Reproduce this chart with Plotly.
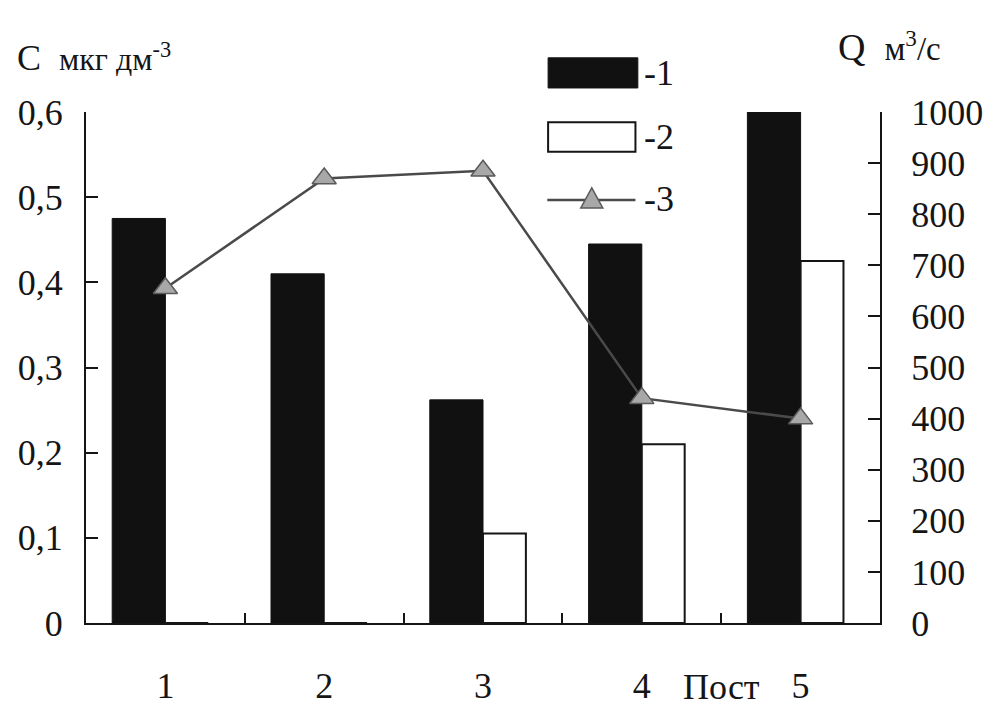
import plotly.graph_objects as go

# ---- data ----
posts = ["1", "2", "3", "4", "5"]
c_series1 = [0.475, 0.41, 0.262, 0.445, 0.6]       # black bars, left axis
c_series2 = [0.0, 0.0, 0.105, 0.21, 0.425]         # white bars, left axis
q_series3 = [655, 870, 885, 440, 400]              # line, right axis
series_names = ["-1", "-2", "-3"]

left_tickvals = [0, 0.1, 0.2, 0.3, 0.4, 0.5, 0.6]
left_ticktext = ["0", "0,1", "0,2", "0,3", "0,4", "0,5", "0,6"]
right_tickvals = [0, 100, 200, 300, 400, 500, 600, 700, 800, 900, 1000]
right_ticktext = ["0", "100", "200", "300", "400", "500", "600", "700", "800", "900", "1000"]

FONT = "Liberation Serif"
INK = "#151515"
TICK_SIZE = 36

fig = go.Figure()

fig.add_trace(go.Bar(
    x=posts, y=c_series1, name=series_names[0],
    marker=dict(color="#111111", line=dict(color="#111111", width=1)),
    offset=-0.335, width=0.335, showlegend=False,
))
fig.add_trace(go.Bar(
    x=posts, y=c_series2, name=series_names[1],
    marker=dict(color="white", line=dict(color=INK, width=2)),
    offset=0.0, width=0.27, showlegend=False,
))
fig.add_trace(go.Scatter(
    x=posts, y=q_series3, name=series_names[2], yaxis="y2",
    mode="lines+markers",
    line=dict(color="#4a4a4a", width=2.5),
    marker=dict(symbol="triangle-up", size=21, color="#a8a8a8",
                line=dict(color="#5a5a5a", width=1.5)),
    showlegend=False,
))

fig.update_layout(
    width=1002, height=711,
    margin=dict(l=78, r=130, t=104, b=96),
    paper_bgcolor="white", plot_bgcolor="white",
    font=dict(family=FONT, size=TICK_SIZE, color=INK),
    barmode="overlay",
    showlegend=False,
    xaxis=dict(
        type="category", range=[-0.5, 4.5], automargin=False,
        showline=True, linecolor=INK, linewidth=2,
        ticks="inside", tickson="boundaries", ticklen=10, tickcolor=INK, tickwidth=1.5,
        showgrid=False, zeroline=False,
        ticklabelstandoff=30,
        tickfont=dict(family=FONT, size=TICK_SIZE, color=INK),
    ),
    yaxis=dict(
        range=[0, 0.6], automargin=False,
        tickvals=left_tickvals, ticktext=left_ticktext,
        showline=True, linecolor=INK, linewidth=2,
        ticks="inside", ticklen=12, tickcolor=INK, tickwidth=1.5,
        showgrid=False, zeroline=False,
        ticklabelstandoff=14,
        tickfont=dict(family=FONT, size=TICK_SIZE, color=INK),
    ),
    yaxis2=dict(
        range=[0, 1000], overlaying="y", side="right", automargin=False,
        tickvals=right_tickvals, ticktext=right_ticktext,
        showline=True, linecolor=INK, linewidth=2,
        ticks="inside", ticklen=12, tickcolor=INK, tickwidth=1.5,
        showgrid=False, zeroline=False,
        ticklabelstandoff=22,
        tickfont=dict(family=FONT, size=TICK_SIZE, color=INK),
    ),
)

# axis titles
fig.add_annotation(
    xref="paper", yref="paper", x=-0.090, y=1.106, xanchor="left", yanchor="middle",
    text="C&nbsp; <span style='font-size:32px'>мкг дм<sup>-3</sup></span>",
    showarrow=False, font=dict(family=FONT, size=36, color=INK),
)
fig.add_annotation(
    xref="paper", yref="paper", x=0.944, y=1.128, xanchor="left", yanchor="middle",
    text="Q&nbsp; <span style='font-size:33px'>м<sup>3</sup>/с</span>",
    showarrow=False, font=dict(family=FONT, size=38, color=INK),
)
fig.add_annotation(
    xref="paper", yref="paper", x=0.80, y=-0.125, xanchor="center", yanchor="middle",
    text="Пост", showarrow=False, font=dict(family=FONT, size=TICK_SIZE, color=INK),
)

# custom legend
fig.add_shape(type="rect", xref="paper", yref="paper",
              x0=0.582, x1=0.695, y0=1.047, y1=1.106,
              fillcolor="#111111", line=dict(color="#111111", width=1))
fig.add_shape(type="rect", xref="paper", yref="paper",
              x0=0.582, x1=0.692, y0=0.922, y1=0.980,
              fillcolor="white", line=dict(color=INK, width=2))
fig.add_shape(type="line", xref="paper", yref="paper",
              x0=0.581, x1=0.692, y0=0.828, y1=0.828,
              line=dict(color="#4a4a4a", width=2.5))
fig.add_shape(type="path", xref="paper", yref="paper",
              xsizemode="pixel", ysizemode="pixel", xanchor=0.637, yanchor=0.828,
              path="M -11 -8 L 11 -8 L 0 12 Z",
              fillcolor="#a8a8a8", line=dict(color="#5a5a5a", width=1.5))
for name, yy in zip(series_names, [1.076, 0.951, 0.830]):
    fig.add_annotation(xref="paper", yref="paper", x=0.700, y=yy,
                       xanchor="left", yanchor="middle", text=name, showarrow=False,
                       font=dict(family=FONT, size=36, color=INK))

fig.write_html("out.html")
